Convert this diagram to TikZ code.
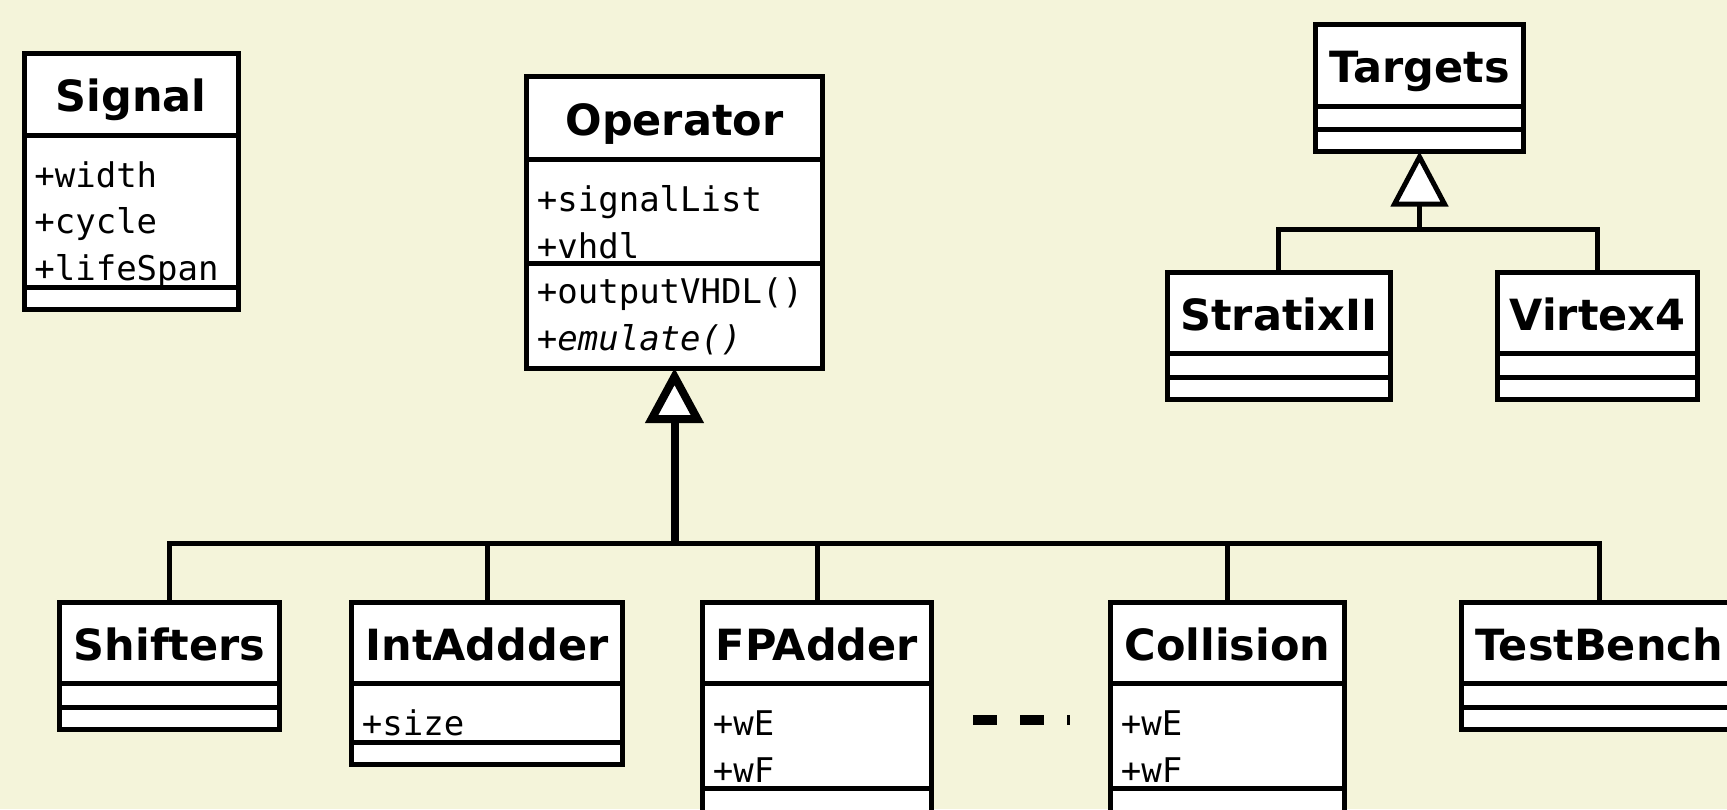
\documentclass[tikz,border=0pt]{standalone}
\usepackage{fontspec}
\setmainfont{DejaVu Sans}
\setmonofont{DejaVu Sans Mono}
\usetikzlibrary{positioning,arrows.meta}

\newlength{\px}
\setlength{\px}{0.5pt}

\definecolor{hintergrund}{RGB}{244,244,218}

\tikzset{
  kopf/.style={draw, fill=white, line width=5\px, outer sep=0pt, inner sep=0pt,
    font=\bfseries\fontsize{21.5pt}{26pt}\selectfont, text height=35\px, text depth=0pt,
    minimum height=80.5\px},
  fach/.style={draw, fill=white, line width=5\px, outer sep=0pt, inner sep=0pt,
    minimum height=22.5\px},
  eintrag/.style={font=\ttfamily\fontsize{17pt}{20pt}\selectfont, anchor=base west, inner sep=0pt},
  linie/.style={line width=5\px},
  erbt/.style={-{Triangle[length=27.5pt, width=28.5pt, fill=white]}},
}

\begin{document}
\begin{tikzpicture}[x=1\px, y=-1\px]
    \fill[hintergrund] (0,0) rectangle (1727,809);
    \useasboundingbox (0,0) rectangle (1727,809);

    % Klasse Signal
    \node[kopf, minimum width=214.5\px, minimum height=82\px] (signal) at (131.25,94) {Signal};
    \node[fach, minimum width=214.5\px, minimum height=152\px, below=0pt of signal] (signal-attr) {};
    \node[fach, minimum width=214.5\px, below=0pt of signal-attr] (signal-op) {};
    \node[eintrag] (signal-a1) at ([shift={(10,52)}]signal-attr.north west) {+width};
    \node[eintrag] (signal-a2) at ([shift={(10,98)}]signal-attr.north west) {+cycle};
    \node[eintrag] (signal-a3) at ([shift={(10,145)}]signal-attr.north west) {+lifeSpan};

    % Klasse Operator
    \node[kopf, minimum width=296\px, minimum height=83\px] (operator) at (674.5,117.5) {Operator};
    \node[fach, minimum width=296\px, minimum height=104\px, below=0pt of operator] (operator-attr) {};
    \node[fach, minimum width=296\px, minimum height=105\px, below=0pt of operator-attr] (operator-op) {};
    \node[eintrag] (operator-a1) at ([shift={(10,52)}]operator-attr.north west) {+signalList};
    \node[eintrag] (operator-a2) at ([shift={(10,99)}]operator-attr.north west) {+vhdl};
    \node[eintrag] (operator-m1) at ([shift={(10,40)}]operator-op.north west) {+outputVHDL()};
    \node[eintrag] (operator-m2) at ([shift={(10,87)}]operator-op.north west) {\itshape +emulate()};

    % Targets und Unterklassen
    \node[kopf, minimum width=208\px, minimum height=81.5\px] (targets) at (1419.5,65.25) {Targets};
    \node[fach, minimum width=208\px, minimum height=23\px, below=0pt of targets] (targets-attr) {};
    \node[fach, minimum width=208\px, below=0pt of targets-attr] (targets-op) {};

    \node[kopf, minimum width=223.5\px] (stratix) at (1278.75,312.75) {StratixII};
    \node[fach, minimum width=223.5\px, minimum height=24\px, below=0pt of stratix] (stratix-attr) {};
    \node[fach, minimum width=223.5\px, below=0pt of stratix-attr] (stratix-op) {};

    \node[kopf, minimum width=200\px] (virtex) at (1597.5,312.75) {Virtex4};
    \node[fach, minimum width=200\px, minimum height=24\px, below=0pt of virtex] (virtex-attr) {};
    \node[fach, minimum width=200\px, below=0pt of virtex-attr] (virtex-op) {};

    % Operatoren (untere Reihe)
    \node[kopf, minimum width=220\px] (shifters) at (169.5,642.75) {Shifters};
    \node[fach, minimum width=220\px, minimum height=24\px, below=0pt of shifters] (shifters-attr) {};
    \node[fach, minimum width=220\px, below=0pt of shifters-attr] (shifters-op) {};

    \node[kopf, minimum width=271\px] (intadd) at (487,642.75) {IntAddder};
    \node[fach, minimum width=271\px, minimum height=59\px, below=0pt of intadd] (intadd-attr) {};
    \node[fach, minimum width=271\px, below=0pt of intadd-attr] (intadd-op) {};
    \node[eintrag] (intadd-a1) at ([shift={(10,52)}]intadd-attr.north west) {+size};

    \node[kopf, minimum width=229\px] (fpadd) at (817,642.75) {FPAdder};
    \node[fach, minimum width=229\px, minimum height=105\px, below=0pt of fpadd] (fpadd-attr) {};
    \node[fach, minimum width=229\px, minimum height=60\px, below=0pt of fpadd-attr] (fpadd-op) {};
    \node[eintrag] (fpadd-a1) at ([shift={(10,52)}]fpadd-attr.north west) {+wE};
    \node[eintrag] (fpadd-a2) at ([shift={(10,99)}]fpadd-attr.north west) {+wF};

    \node[kopf, minimum width=234\px] (collision) at (1227.5,642.75) {Collision};
    \node[fach, minimum width=234\px, minimum height=105\px, below=0pt of collision] (collision-attr) {};
    \node[fach, minimum width=234\px, minimum height=60\px, below=0pt of collision-attr] (collision-op) {};
    \node[eintrag] (collision-a1) at ([shift={(10,52)}]collision-attr.north west) {+wE};
    \node[eintrag] (collision-a2) at ([shift={(10,99)}]collision-attr.north west) {+wF};

    \node[kopf, minimum width=275\px] (testbench) at (1599,642.75) {TestBench};
    \node[fach, minimum width=275\px, minimum height=24\px, below=0pt of testbench] (testbench-attr) {};
    \node[fach, minimum width=275\px, below=0pt of testbench-attr] (testbench-op) {};

    % ... zwischen FPAdder und Collision
    \draw[line width=10\px, dash pattern=on 23.5\px off 23.5\px] (973,720) -- (1070,720);

    % Vererbung Operator
    \coordinate (opbus) at (674.5,543);
    \draw[linie] (shifters.north) |- (opbus);
    \draw[linie] (intadd.north) |- (opbus);
    \draw[linie] (fpadd.north) |- (opbus);
    \draw[linie] (collision.north) |- (opbus);
    \draw[linie] (testbench.north) |- (opbus);
    \draw[linie, erbt, line width=4pt] (opbus) -- (operator-op.south);

    % Vererbung Targets
    \coordinate (tgbus) at (1419.5,229);
    \draw[linie] (stratix.north) |- (tgbus);
    \draw[linie] (virtex.north) |- (tgbus);
    \draw[linie, erbt] (tgbus) -- (targets-op.south);
\end{tikzpicture}
\end{document}
